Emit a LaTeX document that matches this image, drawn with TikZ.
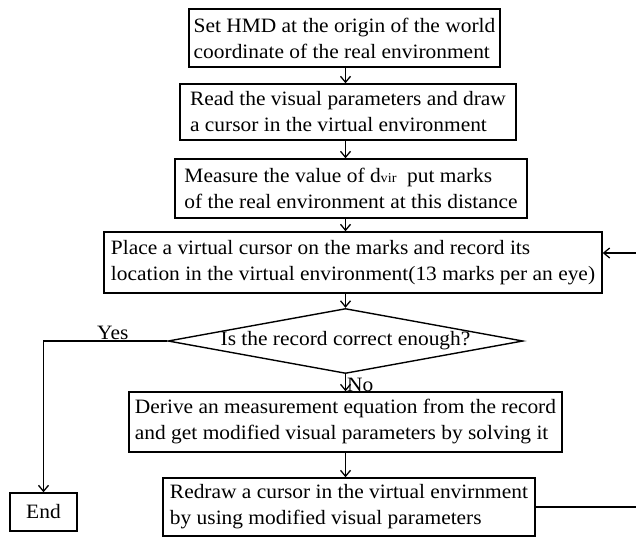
\documentclass[tikz,border=0pt]{standalone}
\usepackage{fontspec}
\setmainfont[FakeStretch=1.05]{Liberation Serif}
\usetikzlibrary{shapes.geometric,arrows.meta}

\begin{document}
\begin{tikzpicture}[x=1pt,y=-1pt,
  box/.style={draw,line width=1.4pt,align=left,inner sep=0pt},
  arr/.style={-{Straight Barb[length=6pt,width=10pt]},line width=1.3pt},
  font=\fontsize{20.4}{26}\selectfont]
  \useasboundingbox (0,0) rectangle (636,537);
  \node[box,minimum width=311pt,minimum height=58pt] at (344.5,38) (setup)
        {Set HMD at the origin of the world\\coordinate of the real environment};
  \node[box,minimum width=336pt,minimum height=56pt] at (348,112) (read)
        {Read the visual parameters and draw\\a cursor in the virtual environment};
  \node[box,minimum width=352pt,minimum height=59pt] at (351,188.5) (measure)
        {Measure the value of d{\fontsize{13.5}{13.5}\selectfont vir}\ \ put marks\\of the real environment at this distance};
  \node[box,minimum width=498pt,minimum height=61pt] at (353,262.5) (place)
        {Place a virtual cursor on the marks and record its\\location in the virtual environment(13 marks per an eye)};
  \node[draw,diamond,line width=1.4pt,aspect=5.46,inner sep=0pt,
        minimum width=355pt,minimum height=65pt] at (345.5,341) (check)
        {Is the record correct enough?};
  \node[box,minimum width=433pt,minimum height=60pt] at (345.5,422) (derive)
        {Derive an measurement equation from the record\\and get modified visual parameters by solving it};
  \node[box,minimum width=372pt,minimum height=58pt] at (349,507) (redraw)
        {Redraw a cursor in the virtual envirnment\\by using modified visual parameters};
  \node[box,align=center,minimum width=67pt,minimum height=38pt] at (43.5,512) (stop) {End};

  \draw[arr] (setup.south -| check) -- (read.north -| check);
  \draw[arr] (read.south -| check) -- (measure.north -| check);
  \draw[arr] (measure.south -| check) -- (place.north -| check);
  \draw[arr] (place.south -| check) -- (check.north);
  \draw[arr] (check.south) -- (derive.north) node[pos=.6,right,inner sep=1pt] {No};
  \draw[arr] (derive.south -| check) -- (redraw.north -| check);
  \draw[arr] (check.west) -| (stop.north) node[pos=.22,above,inner sep=1pt] {Yes};
  % loop back, its right side lies past the edge
  \draw[arr] (redraw.east) -- ++(115,0) |- ([yshift=9.5pt]place.east);
\end{tikzpicture}
\end{document}
